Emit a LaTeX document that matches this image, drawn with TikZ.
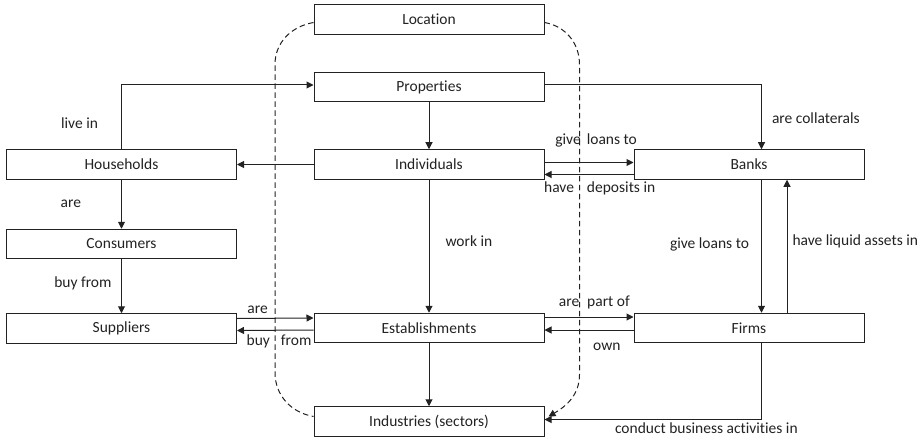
\documentclass[tikz,border=0pt]{standalone}
\usepackage{fontspec}
\setmainfont[Ligatures=NoCommon]{Carlito}
\usepackage{tikz}
\usetikzlibrary{arrows.meta,positioning}
\definecolor{ink}{RGB}{34,34,34}

\begin{document}
\begin{tikzpicture}[x=1pt,y=1pt,font=\fontsize{15.5pt}{18pt}\selectfont,color=ink,
  b/.style={draw=ink,line width=1pt,minimum width=230pt,minimum height=29.5pt,inner sep=0pt},
  a/.style={-{Triangle[length=7pt,width=7pt]},line width=1pt},
  l/.style={inner sep=1pt,text=ink},
  d/.style={dashed,line width=1pt,dash pattern=on 5.5pt off 3.5pt}]
  \useasboundingbox (0,0) rectangle (921,-441);
  \node[b] (ind) at (429,-164.5) {Individuals};
  \node[b,left=76.5pt of ind] (hh) {Households};
  \node[b,right=89pt of ind] (bank) {Banks};
  \node[b,above=47pt of ind] (prop) {Properties};
  \node[b,above=37pt of prop] (loc) {Location};
  \node[b,below=49pt of hh] (cons) {Consumers};
  \node[b,below=54pt of cons] (sup) {Suppliers};
  \node[b,below=133pt of ind] (est) {Establishments};
  \node[b,right=89pt of est] (firm) {Firms};
  \node[b,below=63pt of est] (ins) {Industries (sectors)};
  % households side
  \draw[a] (hh.north) |- node[l,pos=.2,left=22pt]{live in} ([yshift=2pt]prop.west);
  \draw[a] (hh.south) -- node[l,left=39pt]{are} (cons.north);
  \draw[a] (cons.south) -- node[l,pos=.44,left=8.5pt]{buy from} (sup.north);
  \draw[a] ([yshift=10pt]sup.east) -- node[l,pos=.27,above=3pt]{are} ([yshift=10pt]est.west);
  \draw[a] ([yshift=-2pt]est.west) -- node[l,pos=.45,below=3pt]{buy\hspace{11pt}from} ([yshift=-2pt]sup.east);
  % centre column
  \draw[a] (prop.south) -- (ind.north);
  \draw[a] (ind.west) -- (hh.east);
  \draw[a] (ind.south) -- node[l,pos=.46,right=15pt]{work in} (est.north);
  \draw[a] (est.south) -- (ins.north);
  % banks and firms
  \draw[a] ([yshift=2pt]prop.east) -| node[l,pos=.755,right=9pt]{are collaterals} ([xshift=12.5pt]bank.north);
  \draw[a] ([yshift=2pt]ind.east) -- node[l,pos=.58,above=14pt]{give\hspace{6pt}loans to} ([yshift=2pt]bank.west);
  \draw[a] ([yshift=-10pt]bank.west) -- node[l,pos=.38,below=6pt]{have\hspace{13pt}deposits in} ([yshift=-10pt]ind.east);
  \draw[a] ([xshift=12.5pt]bank.south) -- node[l,pos=.49,left=11pt]{give loans to} ([xshift=12.5pt]firm.north);
  \draw[a] ([xshift=38pt]firm.north) -- node[l,pos=.54,right=4pt]{have liquid assets in} ([xshift=38pt]bank.south);
  \draw[a] ([yshift=11pt]est.east) -- node[l,pos=.56,above=7pt]{are\hspace{8pt}part of} ([yshift=11pt]firm.west);
  \draw[a] ([yshift=-2pt]firm.west) -- node[l,pos=.3,below=11pt]{own} ([yshift=-2pt]est.east);
  \draw[a] ([xshift=12.5pt]firm.south) |- node[l,pos=.627,below=2pt]{conduct business activities in} ([yshift=2pt]ins.east);
  % location
  \draw[d] ([yshift=-3pt]loc.west) to[out=190,in=90] ++(-38.5,-42) -- ++(0,-308) to[out=-90,in=170] ([yshift=5pt]ins.west);
  \draw[d,a] ([yshift=-3pt]loc.east) to[out=-10,in=90] ++(35,-42) -- ++(0,-310) to[out=-90,in=30] ([xshift=4pt,yshift=5pt]ins.east);
\end{tikzpicture}
\end{document}
